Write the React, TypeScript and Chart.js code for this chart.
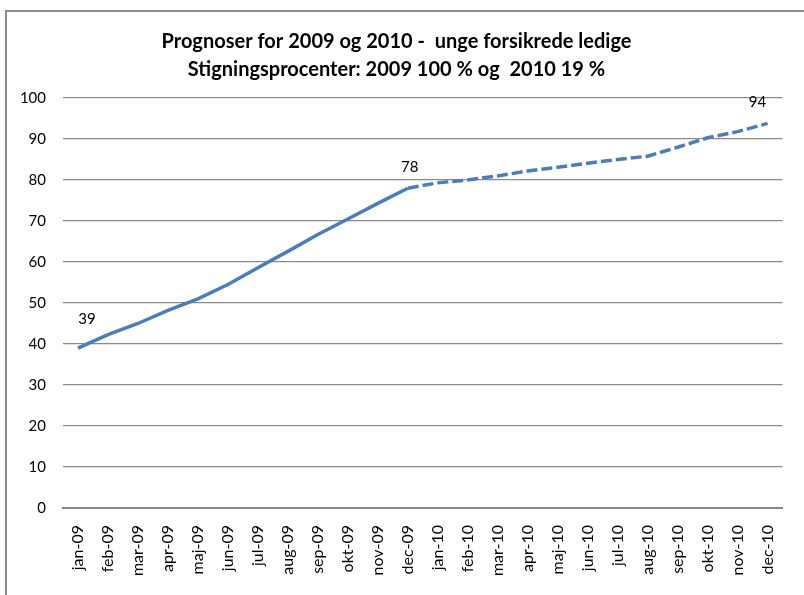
import React, { useEffect, useRef } from "react";
import { Chart, registerables } from "chart.js";

Chart.register(...registerables);

const categories = [
  "jan-09", "feb-09", "mar-09", "apr-09", "maj-09", "jun-09",
  "jul-09", "aug-09", "sep-09", "okt-09", "nov-09", "dec-09",
  "jan-10", "feb-10", "mar-10", "apr-10", "maj-10", "jun-10",
  "jul-10", "aug-10", "sep-10", "okt-10", "nov-10", "dec-10",
];

const values = [
  39, 42.3, 45, 48.2, 51, 54.5, 58.6, 62.6, 66.7, 70.5, 74.3, 78,
  79.3, 80, 81, 82.2, 83.1, 84.1, 85, 85.8, 88, 90.3, 91.8, 93.8,
];

const forecastStartIndex = 11; // dashed from dec-09 onward
const labeledIndices = [0, 11, 23];

const titleLines = [
  "Prognoser for 2009 og 2010 -  unge forsikrede ledige",
  "Stigningsprocenter: 2009 100 % og  2010 19 %",
];

const yMin = 0;
const yMax = 100;
const yStep = 10;

const FONT = "Lato, 'Open Sans', sans-serif";

const dataLabelPlugin = {
  id: "dataLabels",
  afterDatasetsDraw(chart: any) {
    const meta = chart.getDatasetMeta(0);
    const ctx = chart.ctx;
    ctx.save();
    ctx.font = `15px ${FONT}`;
    ctx.fillStyle = "#000";
    ctx.textAlign = "center";
    ctx.textBaseline = "middle";
    const n = meta.data.length;
    labeledIndices.forEach((i) => {
      const pt = meta.data[i];
      let dx = 0;
      let dy = -21;
      if (i === 0) { dx = 9; dy = -29; }
      else if (i === n - 1) { dx = -10; }
      else { dx = 2; }
      ctx.fillText(String(Math.round(values[i])), pt.x + dx, pt.y + dy);
    });
    ctx.restore();
  },
};

export default function App() {
  const canvasRef = useRef<HTMLCanvasElement | null>(null);

  useEffect(() => {
    document.body.style.margin = "0";
    const canvas = canvasRef.current;
    if (!canvas) return;
    const chart = new Chart(canvas, {
      type: "line",
      data: {
        labels: categories,
        datasets: [
          {
            data: values,
            borderColor: "#4a7ebb",
            borderWidth: 3.5,
            pointRadius: 0,
            tension: 0,
            fill: false,
            borderCapStyle: "butt",
            segment: {
              borderDash: (ctx: any) =>
                ctx.p0DataIndex >= forecastStartIndex ? [11, 4] : undefined,
            },
          },
        ],
      },
      options: {
        responsive: false,
        animation: false,
        devicePixelRatio: 1,
        layout: { padding: { left: 0, right: 11, top: 0, bottom: 0 } },
        plugins: {
          legend: { display: false },
          tooltip: { enabled: false },
          title: {
            display: true,
            text: titleLines,
            color: "#000",
            font: { family: FONT, size: 20, weight: "bold", lineHeight: 1.4 },
            padding: { top: 28, bottom: 14 },
          },
        },
        scales: {
          x: {
            type: "category",
            offset: true,
            grid: {
              display: false,
              drawTicks: false,
            },
            border: { display: true, color: "#868686", width: 2 },
            ticks: {
              minRotation: 90,
              maxRotation: 90,
              autoSkip: false,
              padding: 17,
              color: "#000",
              font: { family: FONT, size: 16 },
            },
            afterFit: (s: any) => {
              s.height = 87;
            },
          },
          y: {
            min: yMin,
            max: yMax,
            grid: {
              color: (c: any) => (c.tick && c.tick.value === 0 ? "rgba(0,0,0,0)" : "#8a8a8a"),
              lineWidth: 1.2,
              drawTicks: false,
            },
            border: { display: false },
            ticks: {
              stepSize: yStep,
              padding: 17,
              color: "#000",
              font: { family: FONT, size: 15 },
            },
            afterFit: (s: any) => {
              s.width = 63;
            },
          },
        },
      },
      plugins: [dataLabelPlugin],
    });
    return () => chart.destroy();
  }, []);

  return (
    <div style={{ position: "relative", width: 804, height: 595, overflow: "hidden", background: "#fff" }}>
      <div
        style={{
          position: "absolute",
          left: 5,
          top: 10,
          width: 900,
          height: 800,
          border: "2px solid #8c8c8c",
          boxSizing: "border-box",
        }}
      />
      <canvas
        ref={canvasRef}
        width={804}
        height={595}
        style={{ position: "absolute", left: 0, top: 0, width: 804, height: 595 }}
      />
    </div>
  );
}
